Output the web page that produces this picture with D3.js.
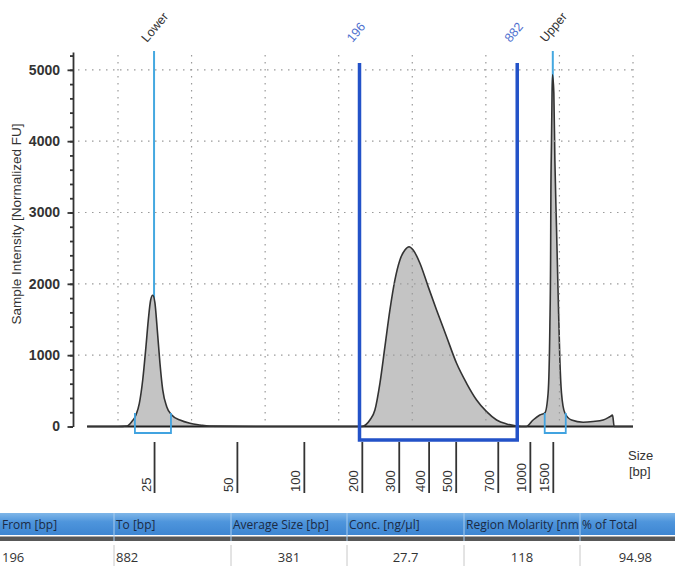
<!DOCTYPE html>
<html>
<head>
<meta charset="utf-8">
<script src="https://cdn.jsdelivr.net/npm/d3@7"></script>
<style>
  body { margin: 0; background: #fff; }
  svg { display: block; font-family: "Liberation Sans", Arial, sans-serif; }
  .grid line { stroke: #9a9a9a; stroke-width: 1.2; stroke-dasharray: 1.5 5.5; }
  .yaxis path, .yaxis line { stroke: #333; stroke-width: 1.8; }
  .yaxis text { font-size: 14px; font-weight: bold; fill: #333; }
  .bpaxis line { stroke: #333; stroke-width: 1.8; }
  .bpaxis text { font-size: 13px; fill: #333; }
  .table text { font-family: "Open Sans", "Noto Sans", sans-serif; font-size: 12px; }
</style>
</head>
<body>
<div id="chart"></div>
<script>
/* Electropherogram trace: migration time [s] and fluorescence [FU] */
const traceTime = [17.9, 20.0, 20.61, 20.93, 21.22, 21.45, 21.68, 21.9, 22.06, 22.22, 22.36,
  22.51, 22.67, 22.85, 23.04, 23.31, 23.65, 24.21, 24.89, 25.57, 26.2, 30.0, 36.3,
  36.56, 37.12, 37.46, 37.8, 38.14, 38.48, 38.82, 39.16, 39.5, 39.78, 40.06, 40.52,
  41.08, 41.65, 42.33, 43.01, 43.69, 44.37, 45.05, 45.73, 46.41, 47.09, 47.4,
  47.75, 48.21, 48.67, 49.01, 49.23, 49.35, 49.4, 49.42, 49.46, 49.5, 49.53,
  49.62, 49.69, 49.8, 49.91, 50.03, 50.14, 50.37, 50.82, 51.61, 52.29, 52.97,
  53.42, 53.61, 53.72, 55.0];
const traceFU = [0, 0, 7, 67, 161, 325, 652, 1119, 1494, 1774, 1840,
  1732, 1353, 891, 512, 278, 161, 91, 45, 21, 5, 0, 0,
  0, 91, 231, 606, 1119, 1634, 2055, 2335, 2475, 2520, 2475, 2289,
  1961, 1634, 1259, 886, 606, 372, 208, 91, 35, 7, 0,
  0, 91, 161, 190, 466, 1400, 2335, 3275, 3976, 4677, 4930,
  4677, 3737, 2798, 1872, 933, 470, 189, 91, 60, 70, 91,
  137, 160, 0, 0];

/* Ladder sizes and where they fall on the time axis */
const ladderBp = [25, 50, 100, 200, 300, 400, 500, 700, 1000, 1500];
const ladderTime = [22.45, 28.08, 32.63, 36.57, 39.08, 41.11, 42.95, 45.81, 47.99, 49.55];

const yMajorTicks = [0, 1000, 2000, 3000, 4000, 5000];
const yMinorTicks = d3.range(0, 5201, 200);
const gridTime = [20, 25, 30, 35, 40, 45, 50, 55];

/* Lower / upper markers and their integration windows [s] */
const markerNames = ["Lower", "Upper"];
const markerBp = [25, 1500];
const markerWindow = [[21.15, 23.6], [49.0, 50.43]];

/* Region of interest */
const regionBp = [196, 882];

/* Region table */
const tableHeader = ["From [bp]", "To [bp]", "Average Size [bp]", "Conc. [ng/µl]",
  "Region Molarity [nm", "% of Total"];
const tableRow = ["196", "882", "381", "27.7", "118", "94.98"];

buildChart();

// ---------------- Function definitions ---------------- //

function buildChart() {
  const params = configureChart();

  const svg = d3.select("#chart").append("svg")
    .attr("width", params.width)
    .attr("height", params.height);

  drawMarkerLines(svg, params);
  drawTrace(svg, params);
  drawGrid(svg, params);
  drawYAxis(svg, params);
  drawBpAxis(svg, params);
  drawRegion(svg, params);
  drawMarkerWindows(svg, params);
  drawTable(svg, params);
}

/*
 * Scales for the plot area.
 */
function configureChart() {
  const x = d3.scaleLinear().domain([20, 55]).range([118, 633]);
  const y = d3.scaleLinear().domain([0, 5250]).range([426.5, 52]);
  // piecewise scale from base pairs to pixels, through the ladder
  const bpX = d3.scaleLinear()
    .domain(ladderBp)
    .range(ladderTime.map(t => x(t)));

  return { width: 685, height: 573, x: x, y: y, bpX: bpX };
}

/*
 * Light blue Lower / Upper marker lines with their labels.
 */
function drawMarkerLines(svg, params) {
  const g = svg.append("g").attr("class", "markers");

  g.selectAll("line")
    .data(markerBp)
    .enter()
    .append("line")
    .attr("x1", d => params.bpX(d))
    .attr("x2", d => params.bpX(d))
    .attr("y1", 51)
    .attr("y2", params.y(0))
    .style("stroke", "#45a8e0")
    .style("stroke-width", 2);

  g.selectAll("text")
    .data(markerBp)
    .enter()
    .append("text")
    .attr("transform", d => "translate(" + (params.bpX(d) - 7) + ",43) rotate(-50)")
    .style("font-size", "12.5px")
    .style("fill", "#333")
    .text((d, i) => markerNames[i]);
}

/*
 * The filled electropherogram curve and its baseline.
 */
function drawTrace(svg, params) {
  const pts = traceTime.map((t, i) => [t, traceFU[i]]);

  const area = d3.area()
    .curve(d3.curveMonotoneX)
    .x(d => params.x(d[0]))
    .y0(params.y(0))
    .y1(d => params.y(d[1]));

  const line = d3.line()
    .curve(d3.curveMonotoneX)
    .x(d => params.x(d[0]))
    .y(d => params.y(d[1]));

  svg.append("path")
    .datum(pts)
    .attr("d", area)
    .style("fill", "#c4c4c4");

  svg.append("line")
    .attr("x1", params.x(traceTime[0]))
    .attr("x2", params.x(55))
    .attr("y1", params.y(0))
    .attr("y2", params.y(0))
    .style("stroke", "#222")
    .style("stroke-width", 2);

  svg.append("path")
    .datum(pts)
    .attr("d", line)
    .style("fill", "none")
    .style("stroke", "#333")
    .style("stroke-width", 1.6);
}

/*
 * Dotted grid lines.
 */
function drawGrid(svg, params) {
  const g = svg.append("g").attr("class", "grid");

  g.selectAll("line.h")
    .data(yMajorTicks.slice(1))
    .enter()
    .append("line")
    .attr("class", "h")
    .attr("x1", 78)
    .attr("x2", 633)
    .attr("y1", d => params.y(d))
    .attr("y2", d => params.y(d));

  g.selectAll("line.v")
    .data(gridTime)
    .enter()
    .append("line")
    .attr("class", "v")
    .attr("x1", d => params.x(d))
    .attr("x2", d => params.x(d))
    .attr("y1", 55)
    .attr("y2", params.y(0) - 3);
}

/*
 * Left axis: minor ticks every 200 FU, labelled major ticks every 1000.
 */
function drawYAxis(svg, params) {
  svg.append("g")
    .attr("class", "yaxis")
    .attr("transform", "translate(73,0)")
    .call(d3.axisLeft(params.y).tickValues(yMinorTicks).tickSize(3).tickSizeOuter(0).tickFormat(""));

  svg.append("g")
    .attr("class", "yaxis")
    .attr("transform", "translate(73,0)")
    .call(d3.axisLeft(params.y).tickValues(yMajorTicks).tickSize(5.5).tickPadding(7.5).tickFormat(d3.format("d")))
    .call(g => g.select(".domain").remove());

  svg.append("text")
    .attr("transform", "translate(21,224) rotate(-90)")
    .attr("text-anchor", "middle")
    .style("font-size", "13.5px")
    .style("fill", "#333")
    .text("Sample Intensity [Normalized FU]");
}

/*
 * Ladder (bp) ticks below the plot with rotated labels.
 */
function drawBpAxis(svg, params) {
  svg.append("g")
    .attr("class", "bpaxis")
    .attr("transform", "translate(0,442)")
    .call(d3.axisBottom(params.bpX).tickValues(ladderBp).tickSize(51).tickFormat(d3.format("d")))
    .call(g => g.select(".domain").remove())
    .call(g => g.selectAll("text")
      .attr("transform", "rotate(-90)")
      .attr("x", -50)
      .attr("y", -4)
      .attr("dy", 0)
      .attr("text-anchor", "start"));

  svg.append("text")
    .attr("x", 628)
    .attr("y", 460)
    .style("font-size", "13px")
    .style("fill", "#333")
    .text("Size");

  svg.append("text")
    .attr("x", 629)
    .attr("y", 476)
    .style("font-size", "13px")
    .style("fill", "#333")
    .text("[bp]");
}

/*
 * Blue bracket marking the analysed region.
 */
function drawRegion(svg, params) {
  const x0 = params.bpX(regionBp[0]);
  const x1 = params.bpX(regionBp[1]);

  svg.append("path")
    .attr("d", "M" + x0 + ",63V440H" + x1 + "V63")
    .style("fill", "none")
    .style("stroke", "#2352c8")
    .style("stroke-width", 3.5);

  svg.selectAll("text.region")
    .data(regionBp)
    .enter()
    .append("text")
    .attr("class", "region")
    .attr("transform", d => "translate(" + (params.bpX(d) - 7) + ",43) rotate(-50)")
    .style("font-size", "12.5px")
    .style("fill", "#4d6fce")
    .text(d => d);
}

/*
 * Small open boxes under the marker peaks.
 */
function drawMarkerWindows(svg, params) {
  svg.selectAll("path.window")
    .data(markerWindow)
    .enter()
    .append("path")
    .attr("class", "window")
    .attr("d", d => "M" + params.x(d[0]) + ",413V433H" + params.x(d[1]) + "V413")
    .style("fill", "none")
    .style("stroke", "#41a3e0")
    .style("stroke-width", 1.8);
}

/*
 * Region summary table under the chart.
 */
function drawTable(svg, params) {
  const edges = [0, 114, 231, 347, 464, 580, 675];
  const anchors = ["start", "start", "middle", "middle", "middle", "end"];

  const g = svg.append("g").attr("class", "table");

  const grad = svg.append("defs").append("linearGradient")
    .attr("id", "hdr")
    .attr("x1", 0).attr("y1", 0).attr("x2", 0).attr("y2", 1);
  grad.append("stop").attr("offset", "0%").attr("stop-color", "#7fb6e8");
  grad.append("stop").attr("offset", "40%").attr("stop-color", "#4e95dc");
  grad.append("stop").attr("offset", "100%").attr("stop-color", "#3e86d2");

  g.append("rect")
    .attr("x", 0).attr("y", 513)
    .attr("width", edges[6]).attr("height", 22)
    .style("fill", "url(#hdr)");

  g.append("rect")
    .attr("x", 0).attr("y", 536.5)
    .attr("width", edges[6]).attr("height", 4.5)
    .style("fill", "#585858");

  // header separators
  g.selectAll("line.hsep")
    .data(edges.slice(1, 6))
    .enter()
    .append("line")
    .attr("class", "hsep")
    .attr("x1", d => d).attr("x2", d => d)
    .attr("y1", 513).attr("y2", 541)
    .style("stroke", "#a9cdef");

  // row separators
  g.selectAll("line.rsep")
    .data(edges.slice(1, 6))
    .enter()
    .append("line")
    .attr("class", "rsep")
    .attr("x1", d => d).attr("x2", d => d)
    .attr("y1", 545).attr("y2", 566)
    .style("stroke", "#c8c8c8");

  g.selectAll("text.head")
    .data(tableHeader)
    .enter()
    .append("text")
    .attr("class", "head")
    .attr("x", (d, i) => edges[i] + 2)
    .attr("y", 529)
    .style("fill", "#1b2a44")
    .text(d => d);

  g.selectAll("text.cell")
    .data(tableRow)
    .enter()
    .append("text")
    .attr("class", "cell")
    .attr("x", (d, i) => {
      if (anchors[i] === "start") return edges[i] + 2;
      if (anchors[i] === "end") return edges[i + 1] - 23;
      return (edges[i] + edges[i + 1]) / 2;
    })
    .attr("y", 562)
    .attr("text-anchor", (d, i) => anchors[i])
    .style("font-size", "13px")
    .style("fill", "#333")
    .text(d => d);
}
</script>
</body>
</html>
